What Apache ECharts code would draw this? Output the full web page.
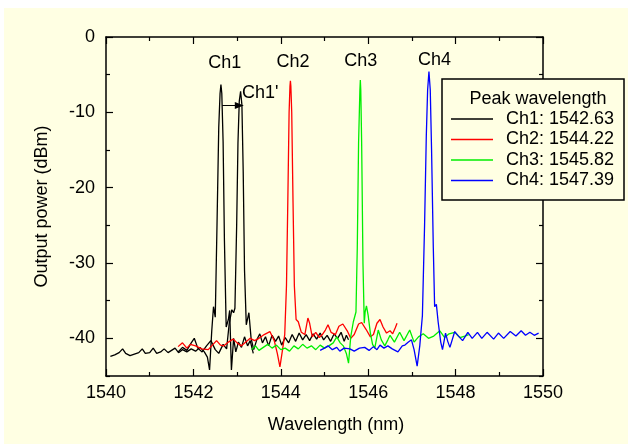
<!DOCTYPE html>
<html>
<head>
<meta charset="utf-8">
<script src="https://cdn.jsdelivr.net/npm/echarts@6/dist/echarts.min.js"></script>
<style>
  html, body { margin: 0; padding: 0; background: #fff; }
  #chart { width: 631px; height: 444px; }
</style>
</head>
<body>
<div id="chart"></div>
<script>
// spectra: wavelength (nm) / power (dBm)
var ch1Wave = [1540.10, 1540.20, 1540.30, 1540.38, 1540.45, 1540.55, 1540.65, 1540.75, 1540.83, 1540.90,
  1541.00, 1541.08, 1541.16, 1541.25, 1541.33, 1541.42, 1541.50, 1541.58, 1541.66, 1541.75,
  1541.85, 1541.95, 1542.05, 1542.15, 1542.25, 1542.32, 1542.37, 1542.42, 1542.46, 1542.50,
  1542.54, 1542.58, 1542.61, 1542.63, 1542.65, 1542.68, 1542.71, 1542.75, 1542.80, 1542.83,
  1542.87, 1542.92, 1542.97, 1543.03, 1543.10, 1543.17, 1543.24, 1543.30, 1543.37];
var ch1Power = [-42.4, -42.2, -41.9, -41.4, -42.0, -42.3, -42.1, -41.9, -41.4, -42.0,
  -41.9, -41.3, -42.0, -41.8, -41.4, -41.9, -41.6, -41.3, -41.9, -41.5,
  -41.8, -41.4, -41.7, -41.2, -41.8, -42.5, -44.2, -39.0, -35.8, -37.2,
  -25, -12, -7.5, -6.3, -7.5, -14, -27, -38.5, -37.5, -36.3,
  -44.2, -40.0, -41.8, -40.5, -41.2, -39.8, -41.0, -40.3, -42.0];

var ch1sWave = [1541.65, 1541.75, 1541.85, 1541.95, 1542.02, 1542.10, 1542.20, 1542.30, 1542.40, 1542.50,
  1542.58, 1542.68, 1542.76, 1542.82, 1542.88, 1542.92, 1542.95, 1542.99, 1543.02, 1543.05,
  1543.08, 1543.11, 1543.14, 1543.17, 1543.21, 1543.27, 1543.32, 1543.38, 1543.45, 1543.52,
  1543.58, 1543.65, 1543.72, 1543.80, 1543.88, 1543.95, 1544.02, 1544.10, 1544.18, 1544.26,
  1544.34, 1544.42, 1544.50, 1544.58, 1544.66, 1544.74, 1544.82, 1544.90, 1544.98, 1545.06,
  1545.14, 1545.22, 1545.30, 1545.38, 1545.45, 1545.50, 1545.55];
var ch1sPower = [-41.8, -41.2, -41.6, -40.6, -40.0, -41.3, -41.8, -41.0, -40.3, -41.5,
  -42.0, -40.8, -41.4, -38.0, -36.2, -36.6, -36.0, -25, -14, -8.5,
  -7.2, -9, -18, -31, -38.2, -36.6, -40.0, -41.5, -40.2, -39.4,
  -40.6, -39.8, -41.0, -39.6, -40.4, -39.7, -40.9, -39.9, -40.6, -39.5,
  -40.4, -39.3, -40.2, -39.5, -40.3, -39.4, -40.1, -39.3, -40.2, -39.6,
  -40.4, -39.4, -40.0, -39.2, -40.4, -39.6, -40.2];

var ch2Wave = [1541.65, 1541.75, 1541.85, 1541.93, 1542.05, 1542.19, 1542.34, 1542.45, 1542.53, 1542.62,
  1542.70, 1542.80, 1542.91, 1543.00, 1543.10, 1543.20, 1543.30, 1543.40, 1543.50, 1543.62,
  1543.75, 1543.85, 1543.92, 1543.98, 1544.04, 1544.09, 1544.13, 1544.16, 1544.19, 1544.21,
  1544.22, 1544.23, 1544.25, 1544.28, 1544.31, 1544.35, 1544.40, 1544.47, 1544.55, 1544.62,
  1544.66, 1544.72, 1544.80, 1544.88, 1544.95, 1545.02, 1545.08, 1545.15, 1545.25, 1545.33,
  1545.42, 1545.52, 1545.60, 1545.68, 1545.78, 1545.85, 1545.95, 1546.05, 1546.12, 1546.20,
  1546.27, 1546.34, 1546.42, 1546.50, 1546.56, 1546.62, 1546.66];
var ch2Power = [-41.1, -40.6, -41.3, -40.8, -41.0, -41.4, -41.5, -40.8, -40.3, -40.9,
  -41.0, -40.5, -40.1, -40.6, -41.0, -40.5, -40.0, -40.3, -40.0, -39.5,
  -39.1, -40.3, -42.0, -43.8, -41.5, -39.5, -33, -22, -10, -6.5,
  -5.8, -6.5, -10, -22, -33, -37.5, -37.8, -39.2, -39.5, -37.3,
  -38.0, -39.8, -39.2, -39.9, -39.5, -38.9, -38.2, -39.2, -39.5, -38.4,
  -38.1, -39.0, -40.0, -39.5, -38.1, -37.9, -38.8, -39.8, -39.5, -38.0,
  -37.5, -38.5, -39.3, -39.0, -39.4, -38.6, -38.0];

var ch3Wave = [1543.33, 1543.42, 1543.50, 1543.60, 1543.70, 1543.80, 1543.90, 1544.00, 1544.10, 1544.20,
  1544.30, 1544.40, 1544.50, 1544.60, 1544.70, 1544.80, 1544.90, 1545.00, 1545.10, 1545.20,
  1545.28, 1545.36, 1545.43, 1545.50, 1545.55, 1545.60, 1545.66, 1545.72, 1545.75, 1545.78,
  1545.81, 1545.82, 1545.83, 1545.85, 1545.88, 1545.91, 1545.93, 1545.96, 1546.00, 1546.05,
  1546.10, 1546.15, 1546.23, 1546.30, 1546.38, 1546.45, 1546.50, 1546.60, 1546.72, 1546.82,
  1546.95, 1547.05, 1547.15, 1547.26, 1547.38, 1547.50, 1547.64, 1547.75, 1547.85, 1547.98,
  1548.10, 1548.21, 1548.30];
var ch3Power = [-41.5, -41.0, -41.6, -41.2, -40.8, -41.3, -40.9, -41.5, -41.3, -41.7,
  -41.0, -41.4, -40.8, -41.3, -41.0, -41.5, -40.9, -41.3, -41.0, -40.6,
  -39.8, -40.6, -41.0, -42.0, -43.3, -39.8, -37.8, -36.5, -28, -14,
  -7, -5.7, -7, -14, -30, -38.0, -36.5, -35.7, -37.0, -39.3,
  -40.8, -41.3, -38.9, -40.2, -41.0, -40.2, -39.6, -40.5, -39.2, -40.3,
  -38.9, -40.5, -39.8, -39.4, -40.0, -39.7, -39.0, -39.9, -39.4, -39.2,
  -39.9, -39.7, -39.5];

var ch4Wave = [1544.90, 1545.00, 1545.08, 1545.18, 1545.28, 1545.35, 1545.45, 1545.58, 1545.68, 1545.80,
  1545.92, 1546.02, 1546.12, 1546.20, 1546.27, 1546.36, 1546.45, 1546.55, 1546.68, 1546.78,
  1546.84, 1546.92, 1546.99, 1547.05, 1547.12, 1547.18, 1547.24, 1547.29, 1547.33, 1547.36,
  1547.39, 1547.42, 1547.45, 1547.49, 1547.52, 1547.56, 1547.60, 1547.66, 1547.70, 1547.77,
  1547.82, 1547.87, 1547.98, 1548.05, 1548.16, 1548.28, 1548.38, 1548.50, 1548.60, 1548.72,
  1548.87, 1548.98, 1549.10, 1549.25, 1549.38, 1549.50, 1549.60, 1549.70, 1549.80, 1549.90];
var ch4Power = [-41.6, -41.3, -41.0, -41.5, -41.2, -41.7, -41.3, -41.4, -41.7, -41.3,
  -41.2, -41.6, -41.1, -41.5, -40.9, -41.3, -41.0, -41.4, -41.8, -41.0,
  -40.9, -40.5, -40.2, -41.5, -43.7, -41.0, -37.0, -25, -13, -7,
  -4.6, -7, -15, -28, -35.8, -35.5, -37.8, -40.5, -41.5, -39.3,
  -40.4, -41.2, -39.1, -39.6, -40.3, -39.2, -40.0, -39.2, -40.0, -39.2,
  -40.1, -39.3, -40.0, -39.1, -39.7, -39.0, -39.6, -39.2, -39.6, -39.3];

var legendNames = ['Ch1: 1542.63', 'Ch2: 1544.22', 'Ch3: 1545.82', 'Ch4: 1547.39'];
var lineColors = ['#000000', '#ff0000', '#00ee00', '#0000ff'];

// text labels over the peaks, [wavelength, power]
var peakLabels = ['Ch1', 'Ch2', 'Ch3', 'Ch4', "Ch1'"];
var peakLabelPos = [[1542.72, -3.45], [1544.28, -3.3], [1545.83, -3.2], [1547.52, -3.05], [1543.53, -7.5]];
var arrowFrom = [1542.66, -9.1];
var arrowTo = [1543.05, -9.1];

var majorY = [-40, -30, -20, -10, 0];
var minorY = [-45, -35, -25, -15, -5];

function pairs(xs, ys) {
    return xs.map(function (x, i) { return [x, ys[i]]; });
}

var font = 'Liberation Sans, Arial, sans-serif';
var chart = echarts.init(document.getElementById('chart'));

function lineSeries(name, xs, ys, color) {
    return {
        name: name,
        type: 'line',
        data: pairs(xs, ys),
        showSymbol: false,
        symbol: 'none',
        lineStyle: { color: color, width: 1.3 },
        itemStyle: { color: color },
        animation: false,
        z: 3
    };
}

var series = [
    lineSeries(legendNames[0], ch1Wave, ch1Power, lineColors[0]),
    lineSeries("Ch1'", ch1sWave, ch1sPower, lineColors[0]),
    lineSeries(legendNames[1], ch2Wave, ch2Power, lineColors[1]),
    lineSeries(legendNames[2], ch3Wave, ch3Power, lineColors[2]),
    lineSeries(legendNames[3], ch4Wave, ch4Power, lineColors[3])
];
series[1].markLine = {
    silent: true,
    animation: false,
    symbol: ['none', 'triangle'],
    symbolSize: [7, 9],
    label: { show: false },
    lineStyle: { color: '#000', width: 1, type: 'solid' },
    data: [[{ coord: arrowFrom }, { coord: arrowTo }]]
};
series.push({
    type: 'scatter',
    data: peakLabelPos.map(function (p, i) { return { value: p, name: peakLabels[i] }; }),
    symbolSize: 1,
    itemStyle: { opacity: 0 },
    silent: true,
    animation: false,
    label: {
        show: true,
        position: 'inside',
        formatter: '{b}',
        color: '#000',
        opacity: 1,
        fontSize: 18,
        fontFamily: font
    },
    z: 5
});

var tickLabelStyle = { color: '#000', fontSize: 18, fontFamily: font };

chart.setOption({
    backgroundColor: '#ffffff',
    animation: false,
    graphic: [
        { type: 'rect', z: -10, silent: true, shape: { x: 4, y: 8, width: 624, height: 436 }, style: { fill: '#ffffe3' } },
        { type: 'rect', z: 10, silent: true, shape: { x: 442, y: 79, width: 182, height: 121 }, style: { fill: '#ffffe3', stroke: '#000', lineWidth: 1.5 } },
        { type: 'text', z: 11, silent: true, x: 538, y: 99, style: { text: 'Peak wavelength', fill: '#000', font: '18px ' + font, textAlign: 'center', textVerticalAlign: 'middle' } }
    ],
    grid: { left: 106, top: 37, width: 437, height: 339, containLabel: false },
    legend: {
        data: legendNames,
        orient: 'vertical',
        left: 451,
        top: 110,
        padding: 0,
        itemGap: 2.5,
        icon: 'rect',
        itemWidth: 42,
        itemHeight: 1.5,
        textStyle: { color: '#000', fontSize: 18, fontFamily: font, lineHeight: 18, padding: [0, 0, 0, 8] },
        z: 12,
        selectedMode: false
    },
    xAxis: [{
        type: 'value',
        min: 1540, max: 1550, interval: 2,
        name: 'Wavelength (nm)',
        nameLocation: 'middle',
        nameGap: 40,
        nameTextStyle: { color: '#000', fontSize: 18, fontFamily: font, padding: [0, 0, 0, 23] },
        axisLine: { show: true, onZero: false, lineStyle: { color: '#000', width: 1.5 } },
        axisTick: { show: true, inside: true, length: 7, lineStyle: { color: '#000', width: 1.2 } },
        minorTick: { show: true, splitNumber: 2, length: 4, lineStyle: { color: '#000', width: 1.2 } },
        axisLabel: Object.assign({ margin: 8, formatter: function (v) { return String(v); } }, tickLabelStyle),
        splitLine: { show: false }
    }, {
        type: 'value',
        position: 'top',
        min: 1540, max: 1550, interval: 2,
        axisLine: { show: true, onZero: false, lineStyle: { color: '#000', width: 1.5 } },
        axisTick: { show: true, inside: true, length: 7, lineStyle: { color: '#000', width: 1.2 } },
        minorTick: { show: true, splitNumber: 2, length: 4, lineStyle: { color: '#000', width: 1.2 } },
        axisLabel: { show: false },
        splitLine: { show: false }
    }],
    yAxis: [{
        type: 'value',
        min: -45, max: 0,
        name: 'Output power (dBm)',
        nameLocation: 'middle',
        nameGap: 55,
        nameTextStyle: { color: '#000', fontSize: 18, fontFamily: font },
        axisLine: { show: true, onZero: false, lineStyle: { color: '#000', width: 1.5 } },
        axisTick: { show: true, inside: true, length: 7, customValues: majorY, lineStyle: { color: '#000', width: 1.2 } },
        axisLabel: Object.assign({ margin: 11, customValues: majorY }, tickLabelStyle),
        splitLine: { show: false }
    }, {
        type: 'value',
        min: -45, max: 0,
        position: 'left',
        axisLine: { show: false },
        axisTick: { show: true, inside: true, length: 4, customValues: minorY, lineStyle: { color: '#000', width: 1.2 } },
        axisLabel: { show: false },
        splitLine: { show: false }
    }, {
        type: 'value',
        min: -45, max: 0,
        position: 'right',
        axisLine: { show: true, onZero: false, lineStyle: { color: '#000', width: 1.5 } },
        axisTick: { show: true, inside: true, length: 7, customValues: majorY, lineStyle: { color: '#000', width: 1.2 } },
        axisLabel: { show: false },
        splitLine: { show: false }
    }, {
        type: 'value',
        min: -45, max: 0,
        position: 'right',
        axisLine: { show: false },
        axisTick: { show: true, inside: true, length: 4, customValues: minorY, lineStyle: { color: '#000', width: 1.2 } },
        axisLabel: { show: false },
        splitLine: { show: false }
    }],
    series: series
});
</script>
</body>
</html>
